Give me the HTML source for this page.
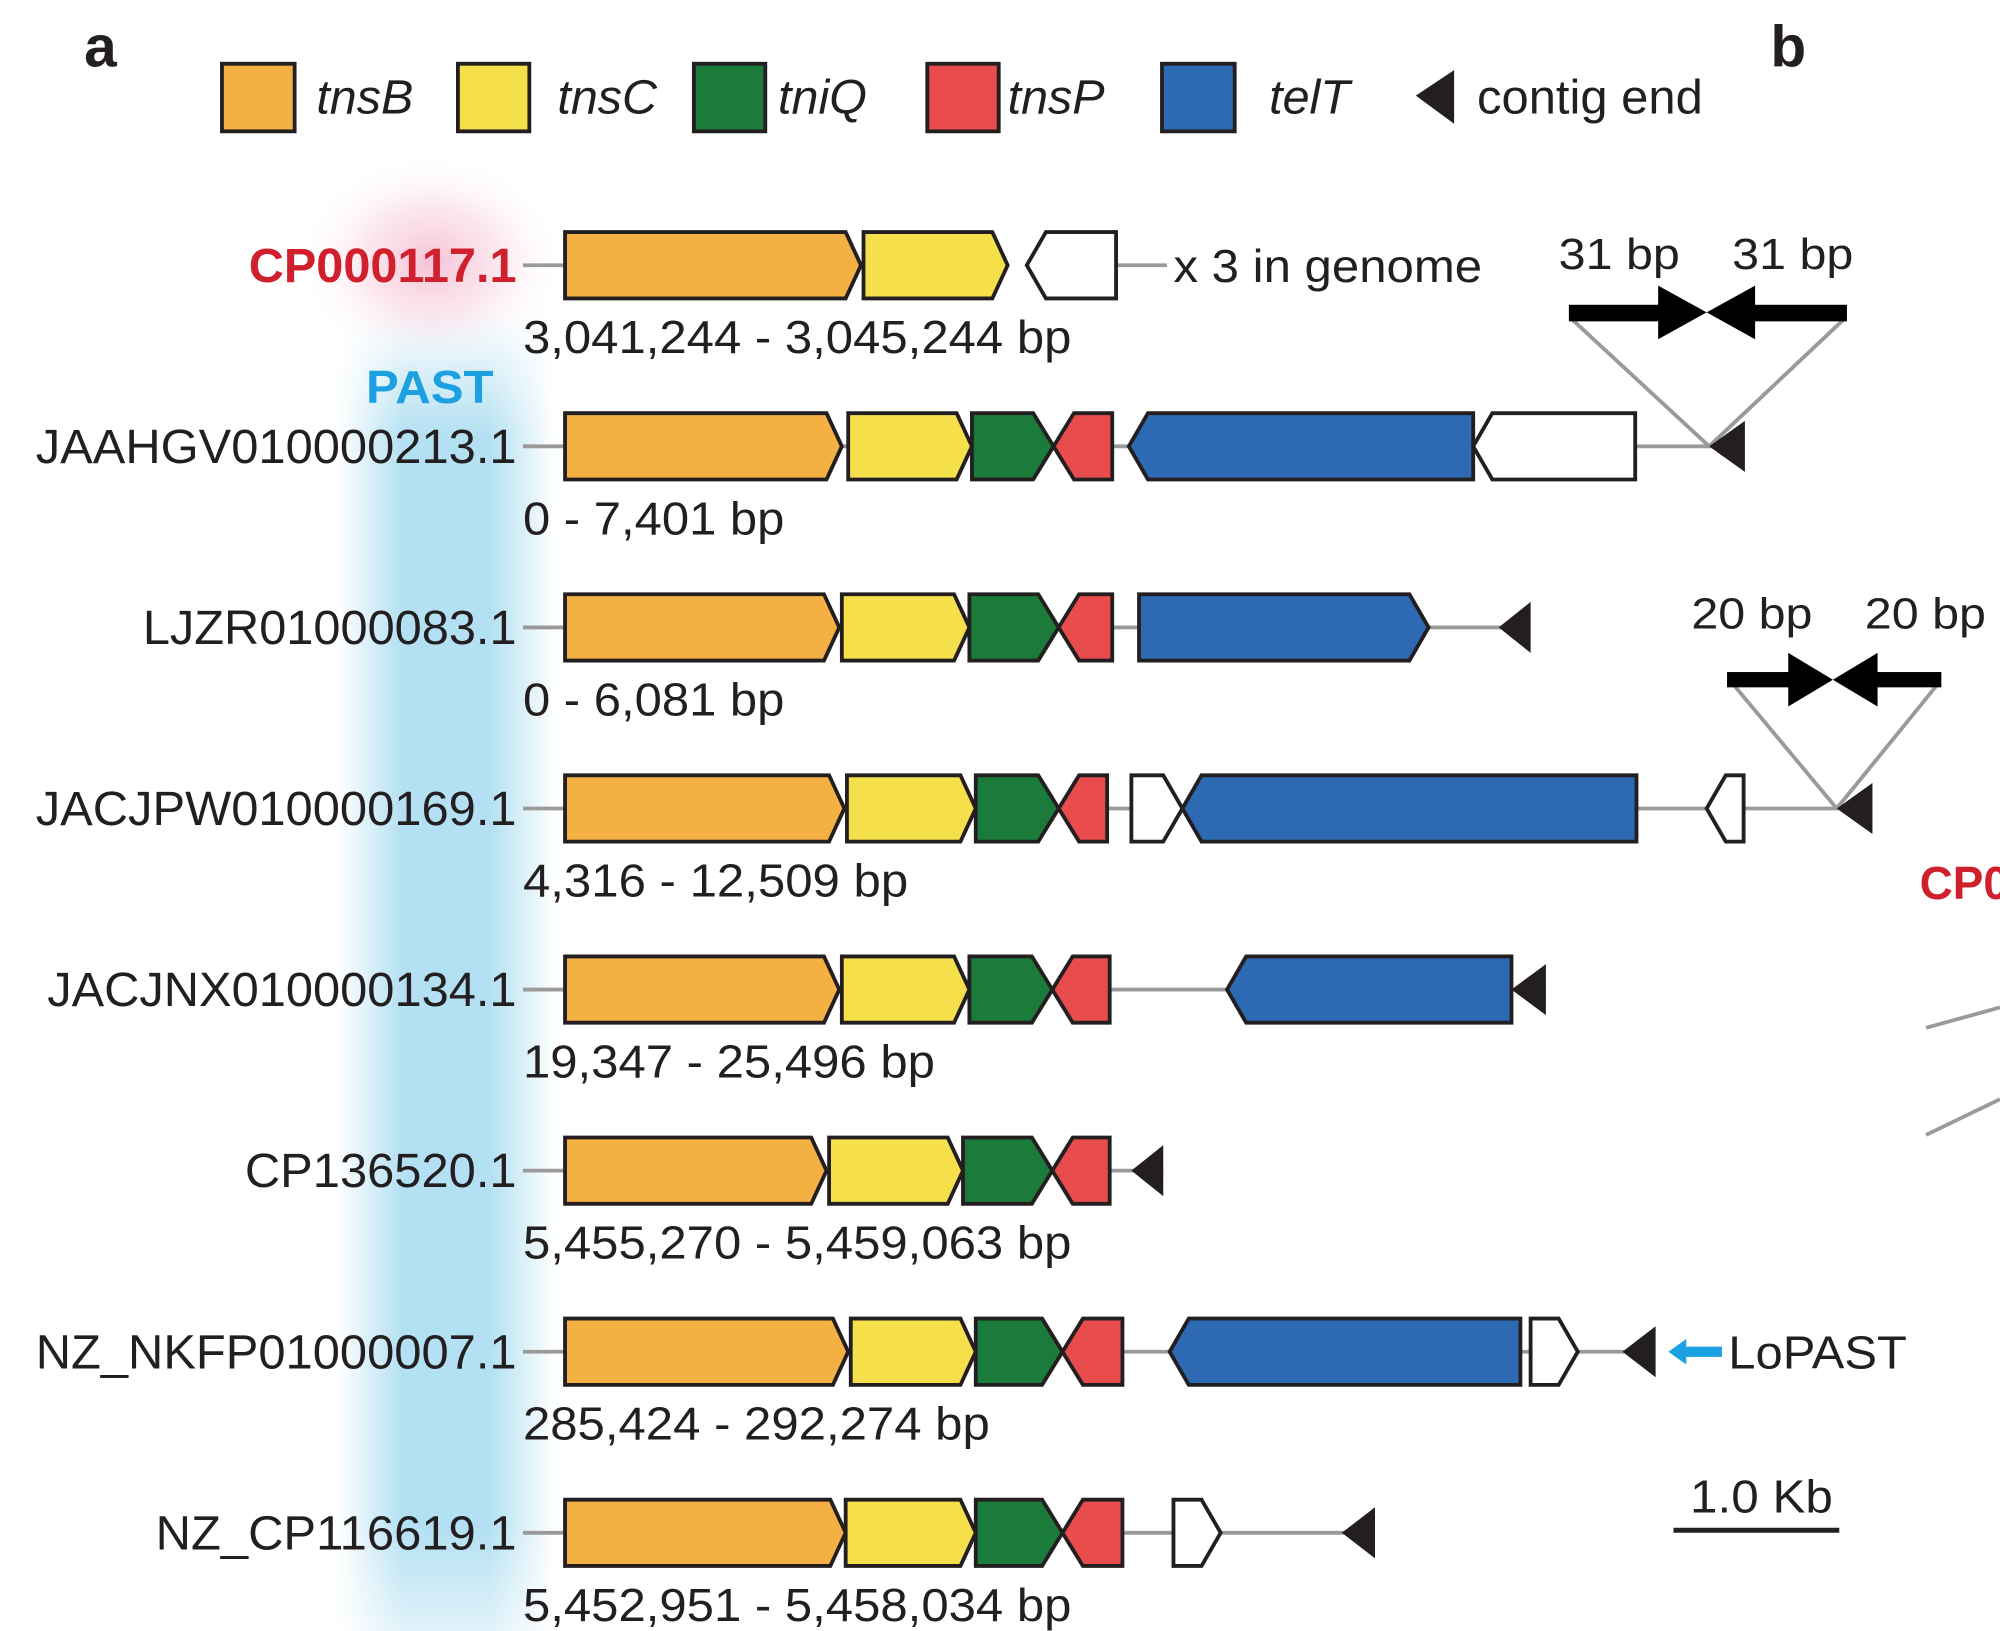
<!DOCTYPE html>
<html><head><meta charset="utf-8"><style>
html,body{margin:0;padding:0;background:#fff;}
svg{display:block;}
text{font-family:"Liberation Sans",sans-serif;fill:#231f20;}
</style></head><body>
<svg width="2000" height="1631" viewBox="0 0 1568 1279" preserveAspectRatio="none" xmlns="http://www.w3.org/2000/svg">
<defs>
<radialGradient id="pink" cx="0.5" cy="0.5" r="0.5">
<stop offset="0" stop-color="#f2a9c4" stop-opacity="0.7"/>
<stop offset="0.5" stop-color="#f7c9da" stop-opacity="0.45"/>
<stop offset="1" stop-color="#fff" stop-opacity="0"/>
</radialGradient>
<linearGradient id="blue" x1="0" x2="1" y1="0" y2="0">
<stop offset="0" stop-color="#b3e0f2" stop-opacity="0"/>
<stop offset="0.3" stop-color="#b3e0f2" stop-opacity="1"/>
<stop offset="0.7" stop-color="#b3e0f2" stop-opacity="1"/>
<stop offset="1" stop-color="#b3e0f2" stop-opacity="0"/>
</linearGradient>
<linearGradient id="bluev" x1="0" x2="0" y1="0" y2="1">
<stop offset="0" stop-color="#fff" stop-opacity="1"/>
<stop offset="0.1" stop-color="#fff" stop-opacity="0"/>
<stop offset="0.92" stop-color="#fff" stop-opacity="0"/>
<stop offset="1" stop-color="#fff" stop-opacity="0.6"/>
</linearGradient>
</defs>
<rect width="1568" height="1279" fill="#fff"/>
<rect x="265" y="240" width="170" height="1039" fill="url(#blue)"/>
<rect x="265" y="240" width="170" height="1039" fill="url(#bluev)"/>
<ellipse cx="338" cy="205" rx="105" ry="85" fill="url(#pink)"/>

<text x="66" y="52" font-size="46" font-weight="bold">a</text>
<text x="1388" y="52" font-size="46" font-weight="bold">b</text>

<g stroke="#231f20" stroke-width="3">
<rect x="174" y="50" width="57" height="53" fill="#F4B043"/>
<rect x="359" y="50" width="56" height="53" fill="#F5E04C"/>
<rect x="544" y="50" width="56" height="53" fill="#1B7B3A"/>
<rect x="727" y="50" width="56" height="53" fill="#E84C4C"/>
<rect x="911" y="50" width="57" height="53" fill="#2D6AB3"/>
</g>
<polygon points="1110,75 1140,55 1140,97" fill="#231f20"/>
<g font-size="38" font-style="italic">
<text x="248" y="89">tnsB</text>
<text x="437" y="89">tnsC</text>
<text x="610" y="89">tniQ</text>
<text x="790" y="89">tnsP</text>
<text x="995" y="89">telT</text>
</g>
<text x="1158" y="89" font-size="38" textLength="177" lengthAdjust="spacingAndGlyphs">contig end</text>

<g stroke="#9a9a9a" stroke-width="3">
<line x1="410" y1="208" x2="443" y2="208"/><line x1="875" y1="208" x2="915" y2="208"/>
<line x1="410" y1="350" x2="1345" y2="350"/>
<line x1="410" y1="492" x2="1180" y2="492"/>
<line x1="410" y1="634" x2="1445" y2="634"/>
<line x1="410" y1="776" x2="1190" y2="776"/>
<line x1="410" y1="918" x2="890" y2="918"/>
<line x1="410" y1="1060" x2="1275" y2="1060"/>
<line x1="410" y1="1202" x2="1055" y2="1202"/>
<line x1="1232" y1="250" x2="1340" y2="350"/><line x1="1446" y1="250" x2="1340" y2="350"/>
<line x1="1360" y1="538" x2="1440" y2="634"/><line x1="1518" y1="538" x2="1440" y2="634"/>
<line x1="1510" y1="806" x2="1568" y2="790"/><line x1="1510" y1="890" x2="1568" y2="862"/>
</g>

<g stroke="#231f20" stroke-width="3" stroke-linejoin="miter">
<polygon points="443,182 663,182 675,208 663,234 443,234" fill="#F4B043"/>
<polygon points="677,182 778,182 790,208 778,234 677,234" fill="#F5E04C"/>
<polygon points="805,208 820,182 875,182 875,234 820,234" fill="#fff"/>
<polygon points="443,324 648,324 660,350 648,376 443,376" fill="#F4B043"/>
<polygon points="665,324 750,324 762,350 750,376 665,376" fill="#F5E04C"/>
<polygon points="762,324 810,324 826,350 810,376 762,376" fill="#1B7B3A"/>
<polygon points="826,350 842,324 872,324 872,376 842,376" fill="#E84C4C"/>
<polygon points="885,350 900,324 1155,324 1155,376 900,376" fill="#2D6AB3"/>
<polygon points="1155,350 1170,324 1282,324 1282,376 1170,376" fill="#fff"/>
<polygon points="443,466 646,466 658,492 646,518 443,518" fill="#F4B043"/>
<polygon points="660,466 748,466 760,492 748,518 660,518" fill="#F5E04C"/>
<polygon points="760,466 814,466 830,492 814,518 760,518" fill="#1B7B3A"/>
<polygon points="830,492 846,466 872,466 872,518 846,518" fill="#E84C4C"/>
<polygon points="893,466 1105,466 1120,492 1105,518 893,518" fill="#2D6AB3"/>
<polygon points="443,608 650,608 662,634 650,660 443,660" fill="#F4B043"/>
<polygon points="664,608 753,608 765,634 753,660 664,660" fill="#F5E04C"/>
<polygon points="765,608 814,608 830,634 814,660 765,660" fill="#1B7B3A"/>
<polygon points="830,634 846,608 868,608 868,660 846,660" fill="#E84C4C"/>
<polygon points="887,608 912,608 927,634 912,660 887,660" fill="#fff"/>
<polygon points="927,634 942,608 1283,608 1283,660 942,660" fill="#2D6AB3"/>
<polygon points="1338,634 1353,608 1367,608 1367,660 1353,660" fill="#fff"/>
<polygon points="443,750 646,750 658,776 646,802 443,802" fill="#F4B043"/>
<polygon points="660,750 748,750 760,776 748,802 660,802" fill="#F5E04C"/>
<polygon points="760,750 809,750 825,776 809,802 760,802" fill="#1B7B3A"/>
<polygon points="825,776 841,750 870,750 870,802 841,802" fill="#E84C4C"/>
<polygon points="962,776 977,750 1185,750 1185,802 977,802" fill="#2D6AB3"/>
<polygon points="443,892 636,892 648,918 636,944 443,944" fill="#F4B043"/>
<polygon points="650,892 743,892 755,918 743,944 650,944" fill="#F5E04C"/>
<polygon points="755,892 809,892 825,918 809,944 755,944" fill="#1B7B3A"/>
<polygon points="825,918 841,892 870,892 870,944 841,944" fill="#E84C4C"/>
<polygon points="443,1034 653,1034 665,1060 653,1086 443,1086" fill="#F4B043"/>
<polygon points="667,1034 753,1034 765,1060 753,1086 667,1086" fill="#F5E04C"/>
<polygon points="765,1034 817,1034 833,1060 817,1086 765,1086" fill="#1B7B3A"/>
<polygon points="833,1060 849,1034 880,1034 880,1086 849,1086" fill="#E84C4C"/>
<polygon points="917,1060 932,1034 1192,1034 1192,1086 932,1086" fill="#2D6AB3"/>
<polygon points="1200,1034 1222,1034 1237,1060 1222,1086 1200,1086" fill="#fff"/>
<polygon points="443,1176 651,1176 663,1202 651,1228 443,1228" fill="#F4B043"/>
<polygon points="663,1176 753,1176 765,1202 753,1228 663,1228" fill="#F5E04C"/>
<polygon points="765,1176 817,1176 833,1202 817,1228 765,1228" fill="#1B7B3A"/>
<polygon points="833,1202 849,1176 880,1176 880,1228 849,1228" fill="#E84C4C"/>
<polygon points="920,1176 942,1176 957,1202 942,1228 920,1228" fill="#fff"/>
</g>

<g fill="#231f20">
<polygon points="1340,350 1368,330 1368,370"/>
<polygon points="1175,492 1200,472 1200,512"/>
<polygon points="1440,634 1468,614 1468,654"/>
<polygon points="1185,776 1212,756 1212,796"/>
<polygon points="887,918 912,898 912,938"/>
<polygon points="1272,1060 1298,1040 1298,1080"/>
<polygon points="1052,1202 1078,1182 1078,1222"/>
</g>

<g fill="#000">
<rect x="1230" y="239" width="80" height="13"/>
<polygon points="1300,224 1338,245 1300,266"/>
<rect x="1368" y="239" width="80" height="13"/>
<polygon points="1376,224 1338,245 1376,266"/>
<rect x="1354" y="527" width="60" height="12"/>
<polygon points="1402,512 1437,533 1402,554"/>
<rect x="1460" y="527" width="62" height="12"/>
<polygon points="1472,512 1437,533 1472,554"/>
</g>
<g font-size="34">
<text x="1222" y="211" textLength="95" lengthAdjust="spacingAndGlyphs">31 bp</text>
<text x="1358" y="211" textLength="95" lengthAdjust="spacingAndGlyphs">31 bp</text>
<text x="1326" y="493" textLength="95" lengthAdjust="spacingAndGlyphs">20 bp</text>
<text x="1462" y="493" textLength="95" lengthAdjust="spacingAndGlyphs">20 bp</text>
</g>

<polygon points="1308,1060 1322,1050 1322,1056 1350,1056 1350,1064 1322,1064 1322,1070" fill="#1BA1E2"/>
<text x="1355" y="1073" font-size="36" textLength="140" lengthAdjust="spacingAndGlyphs">LoPAST</text>
<text x="920" y="221" font-size="36" textLength="242" lengthAdjust="spacingAndGlyphs">x 3 in genome</text>

<line x1="1312" y1="1200" x2="1442" y2="1200" stroke="#231f20" stroke-width="4"/>
<text x="1325" y="1186" font-size="36" textLength="112" lengthAdjust="spacingAndGlyphs">1.0 Kb</text>

<text x="195" y="221" font-size="38" font-weight="bold" style="fill:#d0202e" textLength="210" lengthAdjust="spacingAndGlyphs">CP000117.1</text>
<text x="287" y="316" font-size="36" font-weight="bold" style="fill:#1BA1E2" textLength="100" lengthAdjust="spacingAndGlyphs">PAST</text>
<text x="1505" y="705" font-size="36" font-weight="bold" style="fill:#d0202e">CP0</text>
<g font-size="38">
<text x="28" y="363" textLength="377" lengthAdjust="spacingAndGlyphs">JAAHGV010000213.1</text>
<text x="112" y="505" textLength="293" lengthAdjust="spacingAndGlyphs">LJZR01000083.1</text>
<text x="28" y="647" textLength="377" lengthAdjust="spacingAndGlyphs">JACJPW010000169.1</text>
<text x="37" y="789" textLength="368" lengthAdjust="spacingAndGlyphs">JACJNX010000134.1</text>
<text x="192" y="931" textLength="213" lengthAdjust="spacingAndGlyphs">CP136520.1</text>
<text x="28" y="1073" textLength="377" lengthAdjust="spacingAndGlyphs">NZ_NKFP01000007.1</text>
<text x="122" y="1215" textLength="283" lengthAdjust="spacingAndGlyphs">NZ_CP116619.1</text>
</g>
<g font-size="36">
<text x="410" y="277" textLength="430" lengthAdjust="spacingAndGlyphs">3,041,244 - 3,045,244 bp</text>
<text x="410" y="419" textLength="205" lengthAdjust="spacingAndGlyphs">0 - 7,401 bp</text>
<text x="410" y="561" textLength="205" lengthAdjust="spacingAndGlyphs">0 - 6,081 bp</text>
<text x="410" y="703" textLength="302" lengthAdjust="spacingAndGlyphs">4,316 - 12,509 bp</text>
<text x="410" y="845" textLength="323" lengthAdjust="spacingAndGlyphs">19,347 - 25,496 bp</text>
<text x="410" y="987" textLength="430" lengthAdjust="spacingAndGlyphs">5,455,270 - 5,459,063 bp</text>
<text x="410" y="1129" textLength="366" lengthAdjust="spacingAndGlyphs">285,424 - 292,274 bp</text>
<text x="410" y="1271" textLength="430" lengthAdjust="spacingAndGlyphs">5,452,951 - 5,458,034 bp</text>
</g>
</svg>
</body></html>
